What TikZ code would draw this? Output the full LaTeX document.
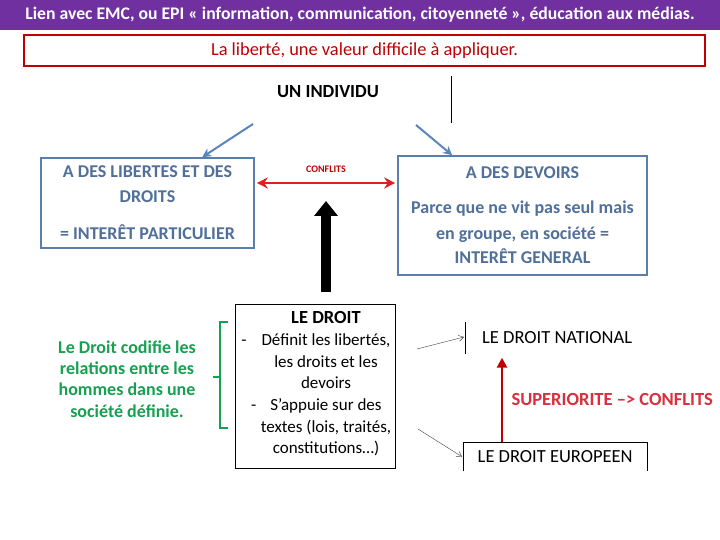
\documentclass[tikz,border=0pt]{standalone}
\usepackage{fontspec}
\setmainfont{Carlito}
\usetikzlibrary{arrows.meta, positioning, calc}
\definecolor{emcpurple}{HTML}{7030A0}
\definecolor{emcred}{HTML}{C00000}
\definecolor{emcbright}{HTML}{E02020}
\definecolor{emcsup}{HTML}{DA2F3C}
\definecolor{emcblue}{HTML}{5B7FAB}
\definecolor{emcbluetext}{HTML}{50709A}
\definecolor{emcarrow}{HTML}{5A86BE}
\definecolor{emcgreen}{HTML}{17A050}

\begin{document}
\begin{tikzpicture}[
    x=1pt, y=-1pt,
    bluebox/.style={rectangle, draw=emcblue, line width=1.6pt, text=emcbluetext, font=\fontsize{18}{22}\selectfont\bfseries, align=center, inner sep=0pt},
    bluearrow/.style={-{Stealth[length=9pt, width=9pt]}, line width=2pt, draw=emcarrow},
    thinarrow/.style={-{Straight Barb[length=5pt, width=6pt]}, thin, draw=black!75},
    body/.style={font=\fontsize{17}{21.7}\selectfont, align=center, inner sep=0pt}
]
\useasboundingbox[fill=white] (0,0) rectangle (720,540);
% header
\fill[emcpurple] (0,0) rectangle (720,30);
\node[text=white, font=\fontsize{17.7}{20}\selectfont\bfseries] (header) at (360,15) {Lien avec EMC, ou EPI « information, communication, citoyenneté », éducation aux médias.};
\node[draw=emcred, line width=2pt, minimum width=681pt, minimum height=31pt, text=emcred, font=\fontsize{18.4}{20}\selectfont] (theme) at (364.5,50.5) {La liberté, une valeur difficile à appliquer.};

% individu
\node[font=\fontsize{18.5}{22}\selectfont\bfseries] (individu) at (328,92) {UN INDIVIDU};
\coordinate (bartop) at (451,76);
\coordinate (barbot) at (451,123);
\draw[thick] (bartop) -- (barbot);

\node[bluebox, minimum width=213pt, minimum height=90pt] (libertes) at (147.5,203) {A DES LIBERTES ET DES\\[3pt] DROITS\\[15pt] = INTERÊT PARTICULIER};
\node[bluebox, minimum width=249pt, minimum height=119pt] (devoirs) at (522.5,215.5) {A DES DEVOIRS\\[13pt] Parce que ne vit pas seul mais\\[4pt] en groupe, en société =\\[2pt] INTERÊT GENERAL};

\coordinate (lstart) at (253,124);
\coordinate (rstart) at (416,125);
\draw[bluearrow] (lstart) -- ($(libertes.north west)+(162,0)$);
\draw[bluearrow] (rstart) -- ($(devoirs.north west)+(55,0)$);

% conflits
\coordinate (cy) at (0,183);
\draw[{Stealth[length=11pt, width=11pt]}-{Stealth[length=11pt, width=11pt]}, line width=1.6pt, draw=emcbright] ($(libertes.east |- cy)+(2,0)$) -- node[above=6pt, text=emcred, font=\fontsize{10}{12}\selectfont\bfseries] (conflits) {CONFLITS} ($(devoirs.west |- cy)+(-2,0)$);

% le droit
\coordinate (lawbase) at (326,292);
\coordinate (lawtip) at (326,201);
\draw[-{Triangle[length=15pt, width=23pt]}, line width=10pt] (lawbase) -- (lawtip);

\node[draw, thick, minimum width=160pt, minimum height=164pt] (droit) at (315,386) {};
\node[body] (droittext) at (326,384) {{\fontsize{18.5}{21.7}\selectfont\bfseries LE DROIT}\\
  \llap{-\hspace{15pt}}Définit les libertés,\\
  les droits et les\\
  devoirs\\
  \llap{-\hspace{14pt}}S’appuie sur des\\
  textes (lois, traités,\\
  constitutions…)};

% codification
\node[text=emcgreen, font=\fontsize{18}{21.3}\selectfont\bfseries, align=center] (codifie) at (127,379) {Le Droit codifie les\\ relations entre les\\ hommes dans une\\ société définie.};
\coordinate (bracetop) at (228,322);
\coordinate (bracebot) at (228,428);
\coordinate (bracemid) at (213,377);
\draw[emcgreen, line width=1.6pt] (bracetop) -- ++(-8,0) |- (bracebot);
\draw[emcgreen, line width=1.6pt] (bracemid) -- ++(7,0);

% national / europeen
\node[anchor=west, minimum height=31pt, inner xsep=17pt, font=\fontsize{18.5}{21}\selectfont] (national) at (465,338) {LE DROIT NATIONAL};
\draw (national.north west) -- (national.south west);
\node[anchor=north west, minimum width=184pt, minimum height=29pt, font=\fontsize{18.5}{21}\selectfont] (europeen) at (463,442) {LE DROIT EUROPEEN};
\draw (europeen.south west) -- (europeen.north west) -- (europeen.north east) -- (europeen.south east);

\coordinate (natfrom) at (417,349);
\coordinate (eurfrom) at (418,429);
\draw[thinarrow] (natfrom) -- ($(national.west)+(-1,-1)$);
\draw[thinarrow] (eurfrom) -- ($(europeen.west)+(-1,0)$);

\coordinate (redx) at (502,0);
\draw[-{Triangle[length=10pt, width=10pt]}, line width=2.6pt, draw=emcred] (europeen.north -| redx) -- ($(national.south -| redx)+(0,4)$);
\node[anchor=west, text=emcsup, font=\fontsize{18.5}{21}\selectfont\bfseries] (superiorite) at (508,399) {SUPERIORITE –> CONFLITS};
\end{tikzpicture}
\end{document}
